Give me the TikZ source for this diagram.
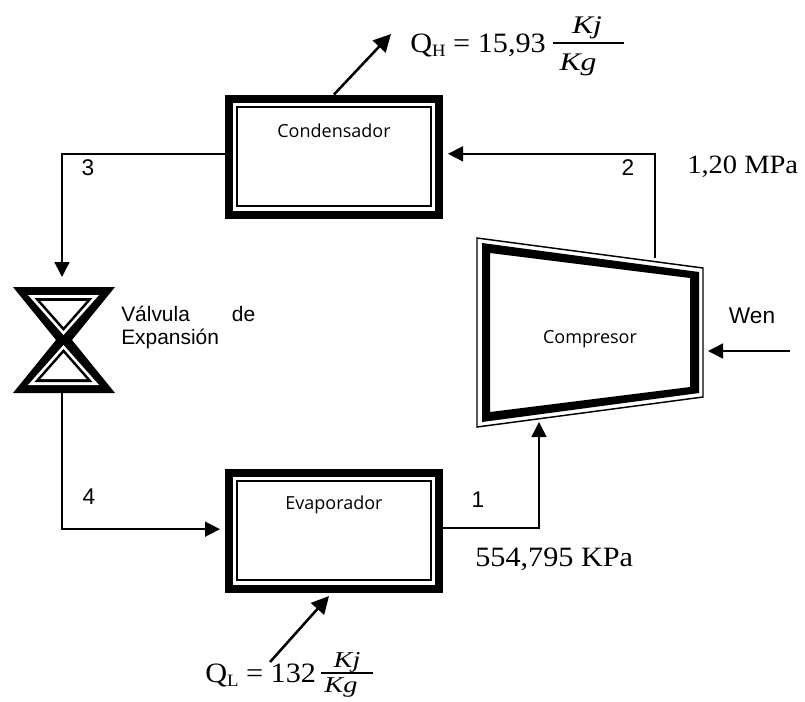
\documentclass[tikz,border=0pt]{standalone}
\usepackage{fontspec}
\newfontfamily\arialfont{Liberation Sans}
\newfontfamily\boxfont{Open Sans}
\newfontfamily\dataserif{Liberation Serif}[FakeStretch=1.08]
\newfontfamily\fracserif{Liberation Serif}[FakeStretch=1.25]
\usetikzlibrary{arrows.meta}
\newcommand{\lowtxt}[1]{\raisebox{-3pt}{\fontsize{13}{13}\selectfont #1}}
\tikzset{
  ringbox/.style={draw=black, line width=6pt, inner sep=0pt, minimum width=157.5pt, minimum height=87pt},
  thinbox/.style={draw=black, line width=1.5pt, inner sep=0pt, minimum width=145.5pt, minimum height=74.25pt},
  flow/.style={line width=1.2pt, -{Triangle[length=11.25pt,width=11.25pt]}},
  ray/.style={line width=1.9pt, -{Triangle[length=13pt,width=13pt]}},
  boxlabel/.style={font=\boxfont\fontsize{13.5}{16}\selectfont, inner sep=0pt},
  numlabel/.style={font=\arialfont\fontsize{17}{18}\selectfont, inner sep=0pt},
  datalabel/.style={font=\dataserif\fontsize{21}{24}\selectfont, inner sep=0pt, anchor=base west},
  fraclabel/.style={font=\fracserif\itshape\fontsize{19}{22}\selectfont, inner sep=0pt, anchor=base},
  smallfrac/.style={fraclabel, font=\fracserif\itshape\fontsize{17}{20}\selectfont},
  fracbar/.style={line width=1.1pt}
}
\begin{document}
\begin{tikzpicture}[x=0.75pt,y=-0.75pt]
\useasboundingbox (0,0) rectangle (805,701);
\node[ringbox] (cond) at (334,156.5) {};
\node[thinbox] at (cond) {};
\node[boxlabel] (condname) at (334,131) {Condensador};
\node[ringbox] (evap) at (334,530.5) {};
\node[thinbox] at (evap) {};
\node[boxlabel] (evapname) at (334,505) {Evaporador};
\draw[line width=1.1pt] (477,238) -- (703,268) -- (703,397) -- (477,427) -- cycle;
\fill[even odd rule] (482,243) -- (699,272) -- (699,393) -- (482,422) -- cycle (490,253) -- (690,278) -- (690,387) -- (490,412) -- cycle;
\node[boxlabel] (comp) at (590,339) {Compresor};
\fill (13,287) -- (115,287) -- (72,340) -- (115,393) -- (13,393) -- (56,340) -- cycle;
\foreach \s in {1,-1} {
  \fill[white] (63.5,340-5*\s) -- (28,340-45*\s) -- (99,340-45*\s) -- cycle;
  \fill (63.5,340-9*\s) -- (34.5,340-42*\s) -- (92.5,340-42*\s) -- cycle;
  \fill[white] (63.5,340-13*\s) -- (40.5,340-39*\s) -- (86.5,340-39*\s) -- cycle;
}
\node[numlabel, anchor=west, align=left, text width=100.5pt, font=\arialfont\fontsize{15.7}{18}\selectfont] (valve) at (121,327.5) {V\'alvula\hfill de\\[-0.5pt]Expansi\'on};
\coordinate (valvetop) at (62,277);
\coordinate (valvebot) at (62,393);
\coordinate (compin) at (539,422);
\coordinate (compout) at (655,258);
\coordinate (workin) at (708,351);
\coordinate (workstart) at (790,351);
\coordinate (qhtip) at (391,34);
\coordinate (qlstart) at (270,662);
\coordinate (qltip) at (329,596);
\coordinate (qhbarl) at (553,43);
\coordinate (qhbarr) at (624,43);
\coordinate (qlbarl) at (321,673);
\coordinate (qlbarr) at (373,673);
\draw[flow] ([yshift=2pt]cond.west) -| (valvetop);
\draw[flow] (valvebot) |- ([xshift=-3.75pt,yshift=1pt]evap.west);
\draw[flow] ([yshift=2pt]evap.east) -| (compin);
\draw[flow] (compout) |- ([xshift=3.75pt,yshift=2pt]cond.east);
\draw[flow] (workstart) -- (workin);
\draw[ray] (cond.north) -- (qhtip);
\draw[ray] (qlstart) -- (qltip);
\node[numlabel] (n1) at (478,500) {1};
\node[numlabel] (n2) at (628,168) {2};
\node[numlabel] (n3) at (88,168) {3};
\node[numlabel] (n4) at (89,497) {4};
\node[numlabel] (wen) at (752,316) {Wen};
\node[datalabel] (qh) at (410,52) {Q\lowtxt{H} = 15,93};
\node[fraclabel] (qhtop) at (587,33) {Kj};
\node[fraclabel] (qhbot) at (578,70) {Kg};
\draw[fracbar] (qhbarl) -- (qhbarr);
\node[datalabel, font=\dataserif\fontsize{19.8}{24}\selectfont] (phigh) at (687,173) {1,20 MPa};
\node[datalabel] (plow) at (475,566) {554,795 KPa};
\node[datalabel] (ql) at (205,682) {Q\lowtxt{L} = 132};
\node[smallfrac] (qltop) at (347,667) {Kj};
\node[smallfrac] (qlbot) at (341,692) {Kg};
\draw[fracbar] (qlbarl) -- (qlbarr);
\end{tikzpicture}
\end{document}
